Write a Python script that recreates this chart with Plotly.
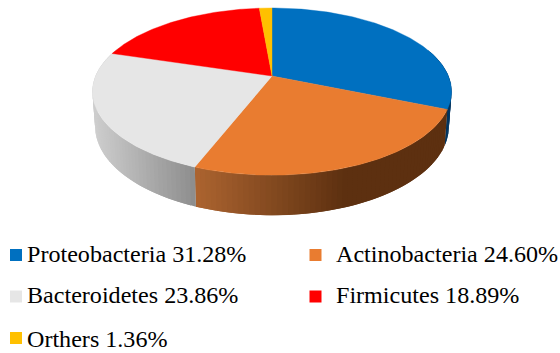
import numpy as np
import plotly.graph_objects as go

# Phylum shares, clockwise from twelve o'clock
names = ["Proteobacteria", "Actinobacteria", "Bacteroidetes", "Firmicutes", "Orthers"]
shares = [31.28, 24.60, 23.86, 18.89, 1.36]

top_colors = ["#0070C0", "#E97C30", "#E6E6E6", "#FF0000", "#FFC000"]
# Rim shading (colour at screen-left, colour at screen-right, left x, right x)
rim_shades = [
    ((0, 52, 95), (0, 52, 95), 0, 560),
    ((172, 100, 48), (93, 48, 16), 195, 345),
    ((205, 205, 205), (140, 140, 140), 95, 196),
    ((205, 205, 205), (205, 205, 205), 0, 560),
    ((205, 205, 205), (205, 205, 205), 0, 560),
]

# Perspective disc model in pixel space
CX, CY = 272.0, 76.0
RX, RY = 176.4, 80.7
TILT = 0.1865
THICK = 33.8
BASE_SCALE = 0.985


def top_point(theta):
    x, y = np.sin(theta), np.cos(theta)
    w = 1 + TILT * y
    return CX + RX * x / w, CY - RY * y / w


def base_point(theta):
    x, y = np.sin(theta), np.cos(theta)
    w = 1 + TILT * y
    return CX + RX * BASE_SCALE * x / w, CY - RY * BASE_SCALE * y / w + THICK / w


def lerp(c0, c1, f):
    f = min(max(f, 0.0), 1.0)
    return "rgb(%d,%d,%d)" % tuple(round(a + (b - a) * f) for a, b in zip(c0, c1))


fig = go.Figure()
edges = np.radians(np.cumsum([0] + shares) * 360.0 / sum(shares))

# Rim strips are drawn first so the top face covers their upper edges.
# Each strip runs under the next one, which hides the seams between them.
for i in range(len(shares)):
    start, end = edges[i], edges[i + 1]
    lo, hi = max(start, np.radians(70)), min(end, np.radians(292))
    if hi <= lo:
        continue
    c0, c1, x0, x1 = rim_shades[i]
    cuts = np.linspace(lo, hi, max(2, int(np.degrees(hi - lo) / 1.5) + 1))
    step = cuts[1] - cuts[0]
    for a, b in zip(cuts[:-1], cuts[1:]):
        arc = np.linspace(a, min(b + step, hi), 5)
        tx, ty = top_point(arc)
        bx, by = base_point(arc[::-1])
        ref_x, _ = top_point(np.array([(a + b) / 2]))
        color = lerp(c0, c1, (ref_x[0] - x0) / (x1 - x0))
        fig.add_trace(go.Scatter(
            x=np.r_[tx, bx, tx[0]], y=np.r_[ty, by, ty[0]],
            mode="lines", fill="toself", fillcolor=color,
            line=dict(width=0), hoverinfo="skip", showlegend=False,
        ))

# Top face wedges
for i, name in enumerate(names):
    arc = np.linspace(edges[i], edges[i + 1], 120)
    ax, ay = top_point(arc)
    fig.add_trace(go.Scatter(
        x=np.r_[CX, ax, CX], y=np.r_[CY, ay, CY],
        mode="lines", fill="toself", fillcolor=top_colors[i],
        line=dict(color=top_colors[i], width=0.4), name=name,
        hoverinfo="name", showlegend=False,
    ))

# Key: two columns, three rows
key_x = [16, 315.5, 16, 315.5, 16]
key_y = [255, 255, 296.5, 296.5, 338]
label_x = [25, 334, 25, 334, 25]
label_y = [254, 254, 295, 295, 339]
fig.add_trace(go.Scatter(
    x=key_x, y=key_y, mode="markers",
    marker=dict(symbol="square", size=12, color=top_colors, line=dict(width=0)),
    hoverinfo="skip", showlegend=False,
))
for name, share, lx, ly in zip(names, shares, label_x, label_y):
    fig.add_annotation(
        x=lx, y=ly, xref="x", yref="y", text=f"{name} {share:.2f}%", showarrow=False,
        xanchor="left", yanchor="middle",
        font=dict(family="Liberation Serif", size=24.1, color="#000000"),
    )

fig.update_layout(
    width=560, height=353, margin=dict(l=0, r=0, t=0, b=0),
    paper_bgcolor="white", plot_bgcolor="white", showlegend=False,
    xaxis=dict(range=[0, 560], visible=False, fixedrange=True),
    yaxis=dict(range=[353, 0], visible=False, fixedrange=True),
)
fig.write_html("out.html", config=dict(displayModeBar=False))
